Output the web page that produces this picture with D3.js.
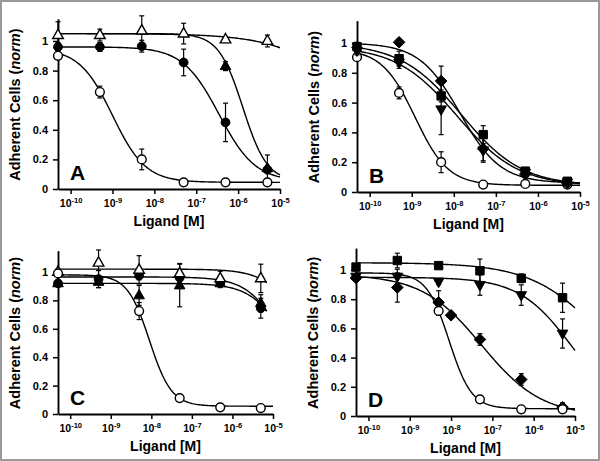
<!DOCTYPE html>
<html><head><meta charset="utf-8">
<script src="https://cdn.jsdelivr.net/npm/d3@7"></script>
<style>
body{margin:0;background:#fff}
svg{display:block}
text{font-family:"Liberation Sans",Arial,sans-serif;font-weight:bold;fill:#000}
</style>
</head><body>
<svg id="chart" width="600" height="461"></svg>
<script>
// ---------- data ----------
const concs  = [5e-11, 5e-10, 5e-9, 5e-8, 5e-7, 5e-6];
const concsD = [5e-11, 5e-10, 5e-9, 1e-8, 5e-8, 5e-7, 5e-6];
const xTickExps = [-10, -9, -8, -7, -6, -5];
const yTicks = [0, 0.2, 0.4, 0.6, 0.8, 1];
const panelLabels = ["A", "B", "C", "D"];
const xTitle = "Ligand [M]";

// fit params: [top, bottom, IC50, hill]
// Panel A
const A_openCircle = [0.90, 0.655, 0.20, 0.045, 0.045, 0.045];
const A_openCircleErr = [0, 0.04, 0.07, 0, 0, 0];
const A_openCircleFit = [0.95, 0.045, 1e-9, 1.1];
const A_filledCircle = [0.96, 0.96, 0.965, 0.855, 0.45, 0.13];
const A_filledCircleErr = [0.03, 0.03, 0.04, 0.09, 0.13, 0];
const A_filledCircleFit = [0.96, 0.05, 3.5e-7, 1.0];
const A_filledTri = [null, null, null, null, 0.83, 0.14];
const A_filledTriErr = [0, 0, 0, 0, 0.03, 0.09];
const A_filledTriFit = [1.05, 0.05, 1.3e-6, 1.5];
const A_openTri = [1.04, 1.04, 1.07, 1.05, 1.01, 1.0];
const A_openTriErr = [0.09, 0.04, 0.1, 0.07, 0.02, 0.04];
const A_openTriFit = [1.05, 0, 1e-3, 0.5];

// Panel B
const B_openCircle = [0.905, 0.665, 0.20, 0.05, 0.054, 0.05];
const B_openCircleErr = [0, 0.04, 0.07, 0, 0, 0];
const B_openCircleFit = [0.96, 0.045, 1.2e-9, 1.1];
const B_diamond = [null, 1.005, 0.745, 0.29, 0.12, 0.06];
const B_diamondErr = [0, 0.02, 0.1, 0.08, 0.02, 0.02];
const B_diamondFit = [1.0, 0.06, 1.4e-8, 0.9];
const B_triDown = [0.95, 0.87, 0.555, 0.28, 0.13, 0.065];
const B_triDownErr = [0.03, 0.04, 0.17, 0.08, 0.02, 0.02];
const B_triDownFit = [0.98, 0.04, 1.2e-8, 0.6];
const B_square = [0.975, 0.895, 0.645, 0.385, 0.14, 0.072];
const B_squareErr = [0.03, 0.05, 0.04, 0.06, 0.02, 0.02];
const B_squareFit = [1.0, 0.04, 1.5e-8, 0.6];

// Panel C
const C_filledCircle = [0.92, 0.95, 0.975, 0.96, 0.925, 0.745];
const C_filledCircleErr = [0.02, 0.06, 0.03, 0.03, 0.03, 0.07];
const C_filledCircleFit = [0.965, 0, 2.1e-5, 1];
const C_filledTri = [0.92, 0.93, 0.835, 0.905, 0.92, 0.78];
const C_filledTriErr = [0.02, 0.04, 0.07, 0.15, 0.03, 0.06];
const C_filledTriFit = [0.92, 0, 2.6e-5, 1];
const C_openTri = [1.0, 1.065, 1.015, 0.99, 0.955, 0.955];
const C_openTriErr = [0.02, 0.09, 0.1, 0.07, 0.05, 0.1];
const C_openTriFit = [1.02, 0, 6.8e-5, 1];
const C_openCircle = [0.99, null, 0.725, 0.112, 0.047, 0.042];
const C_openCircleErr = [0, 0, 0.06, 0, 0, 0];
const C_openCircleFit = [0.98, 0.055, 9e-9, 1.6];

// Panel D
const D_diamond = [0.945, 0.88, 0.778, 0.69, 0.524, 0.25, 0.06];
const D_diamondErr = [0.02, 0.1, 0.08, 0.02, 0.04, 0.04, 0.03];
const D_diamondFit = [0.97, 0, 5.5e-8, 0.6];
const D_triDown = [0.955, 0.955, 0.92, 0.897, 0.828, 0.565];
const D_triDownErr = [0.02, 0.05, 0.02, 0.07, 0.07, 0.1];
const D_triDownFit = [0.95, 0, 8.5e-6, 0.68];
const D_square = [1.02, 1.065, 1.03, 0.995, 0.943, 0.81];
const D_squareErr = [0.02, 0.05, 0.02, 0.08, 0.03, 0.1];
const D_squareFit = [1.05, 0, 5.7e-5, 0.5];
const D_openCircle = [null, null, 0.72, 0.114, 0.046, 0.046];
const D_openCircleErr = [0, 0, 0.03, 0, 0, 0];
const D_openCircleFit = [0.98, 0.05, 9e-9, 1.6];

// ---------- layout / options ----------
const panels = [
  {label: panelLabels[0], x0: 58, x1: 280, y0: 189, y1: 41, series: [
    {x: concs, y: A_filledCircle, e: A_filledCircleErr, fit: A_filledCircleFit, shape: "circle", open: false},
    {x: concs, y: A_filledTri, e: A_filledTriErr, fit: A_filledTriFit, shape: "triUp", open: false},
    {x: concs, y: A_openTri, e: A_openTriErr, fit: A_openTriFit, shape: "triUp", open: true},
    {x: concs, y: A_openCircle, e: A_openCircleErr, fit: A_openCircleFit, shape: "circle", open: true}
  ]},
  {label: panelLabels[1], x0: 357, x1: 580, y0: 192, y1: 43, series: [
    {x: concs, y: B_openCircle, e: B_openCircleErr, fit: B_openCircleFit, shape: "circle", open: true},
    {x: concs, y: B_diamond, e: B_diamondErr, fit: B_diamondFit, shape: "diamond", open: false},
    {x: concs, y: B_triDown, e: B_triDownErr, fit: B_triDownFit, shape: "triDown", open: false},
    {x: concs, y: B_square, e: B_squareErr, fit: B_squareFit, shape: "square", open: false}
  ]},
  {label: panelLabels[2], x0: 58, x1: 273, y0: 414, y1: 272, series: [
    {x: concs, y: C_filledCircle, e: C_filledCircleErr, fit: C_filledCircleFit, shape: "circle", open: false, end: 7e-6},
    {x: concs, y: C_filledTri, e: C_filledTriErr, fit: C_filledTriFit, shape: "triUp", open: false, end: 7e-6},
    {x: concs, y: C_openTri, e: C_openTriErr, fit: C_openTriFit, shape: "triUp", open: true, end: 7e-6},
    {x: concs, y: C_openCircle, e: C_openCircleErr, fit: C_openCircleFit, shape: "circle", open: true}
  ]},
  {label: panelLabels[3], x0: 356, x1: 575, y0: 416, y1: 270, series: [
    {x: concsD, y: D_diamond, e: D_diamondErr, fit: D_diamondFit, shape: "diamond", open: false},
    {x: concs, y: D_triDown, e: D_triDownErr, fit: D_triDownFit, shape: "triDown", open: false},
    {x: concs, y: D_square, e: D_squareErr, fit: D_squareFit, shape: "square", open: false},
    {x: concs, y: D_openCircle, e: D_openCircleErr, fit: D_openCircleFit, shape: "circle", open: true}
  ]}
];

const svg = d3.select("#chart");
svg.append("rect").attr("x", 1).attr("y", 1).attr("width", 598).attr("height", 459)
  .attr("fill", "none").attr("stroke", "#9a9a9a").attr("stroke-width", 2);

const shapePath = {
  circle: d3.symbol(d3.symbolCircle, Math.PI * 4.4 * 4.4)(),
  triUp: "M0,-6L5.3,3.4L-5.3,3.4Z",
  triDown: "M0,6L5.3,-3.4L-5.3,-3.4Z",
  square: "M-4.2,-4.2H4.2V4.2H-4.2Z",
  diamond: "M0,-5.8L5.8,0L0,5.8L-5.8,0Z"
};

function model(p, c) {
  return p[1] + (p[0] - p[1]) / (1 + Math.pow(c / p[2], p[3]));
}

panels.forEach(P => {
  const g = svg.append("g");
  const xMin = 5e-11, xMax = 1e-5;
  const x = d3.scaleLog().domain([xMin, xMax]).range([P.x0, P.x1]);
  const unit = P.y0 - P.y1;
  const y = d3.scaleLinear().domain([0, 1]).range([P.y0, P.y1]);
  const yAxisScale = d3.scaleLinear().domain([0, 1.15]).range([P.y0, P.y0 - 1.15 * unit]);

  // axes
  const xAxis = g.append("g").attr("transform", `translate(0,${P.y0})`)
    .call(d3.axisBottom(x).tickValues(xTickExps.map(e => Math.pow(10, e)))
      .tickSize(5).tickSizeOuter(0).tickPadding(4).tickFormat(""));
  xAxis.select(".domain").attr("stroke-width", 1.9);
  xAxis.selectAll(".tick line").attr("stroke-width", 1.5);
  xAxis.selectAll(".tick").each(function(d, i) {
    const t = d3.select(this).append("text").attr("y", 18).attr("text-anchor", "middle")
      .style("font-size", "10.5px");
    t.append("tspan").text("10");
    t.append("tspan").attr("dy", -4).style("font-size", "7.5px").text(String(xTickExps[i]));
  });

  const yAxis = g.append("g").attr("transform", `translate(${P.x0},0)`)
    .call(d3.axisLeft(yAxisScale).tickValues(yTicks).tickSize(5).tickSizeOuter(0).tickPadding(5)
      .tickFormat(d => d === 0 ? "0" : d === 1 ? "1" : d.toFixed(1)));
  yAxis.select(".domain").attr("stroke-width", 1.9);
  yAxis.selectAll(".tick line").attr("stroke-width", 1.5);
  yAxis.selectAll(".tick text").style("font-size", "11px").style("font-family", '"Liberation Sans",Arial,sans-serif').style("font-weight", "bold");
  g.selectAll(".domain, .tick line").attr("stroke", "#000");

  // titles
  g.append("text").attr("x", (P.x0 + P.x1) / 2).attr("y", P.y0 + 37)
    .attr("text-anchor", "middle").style("font-size", "14px").text(xTitle);
  const yt = g.append("text")
    .attr("transform", `translate(${P.x0 - 38},${P.y0 - 0.57 * unit}) rotate(-90)`)
    .attr("text-anchor", "middle").style("font-size", "14.5px");
  yt.append("tspan").text("Adherent Cells (");
  yt.append("tspan").style("font-style", "italic").text("norm");
  yt.append("tspan").text(")");

  g.append("text").attr("x", P.x0 + 12).attr("y", P.y0 - 9)
    .style("font-size", "21px").text(P.label);

  // curves
  const line = d3.line().x(d => x(d[0])).y(d => y(d[1]));
  P.series.forEach(s => {
    const end = s.end || xMax;
    const n = 160, pts = [];
    const l0 = Math.log10(xMin), l1 = Math.log10(end);
    for (let i = 0; i <= n; i++) {
      const c = Math.pow(10, l0 + (l1 - l0) * i / n);
      pts.push([c, model(s.fit, c)]);
    }
    g.append("path").attr("d", line(pts)).attr("fill", "none")
      .attr("stroke", "#000").attr("stroke-width", 1.4);
  });

  // error bars + markers
  P.series.forEach(s => {
    const data = s.x.map((c, i) => ({c, v: s.y[i], e: s.e[i]})).filter(d => d.v != null);
    const eb = g.append("g").attr("stroke", "#000").attr("stroke-width", 1.2);
    data.filter(d => d.e > 0).forEach(d => {
      const cx = x(d.c);
      eb.append("line").attr("x1", cx).attr("x2", cx).attr("y1", y(d.v - d.e)).attr("y2", y(d.v + d.e));
      eb.append("line").attr("x1", cx - 2.5).attr("x2", cx + 2.5).attr("y1", y(d.v + d.e)).attr("y2", y(d.v + d.e));
      eb.append("line").attr("x1", cx - 2.5).attr("x2", cx + 2.5).attr("y1", y(d.v - d.e)).attr("y2", y(d.v - d.e));
    });
    g.append("g").selectAll("path").data(data).join("path")
      .attr("d", shapePath[s.shape])
      .attr("transform", d => `translate(${x(d.c)},${y(d.v)})`)
      .attr("fill", s.open ? "#fff" : "#000")
      .attr("stroke", "#000").attr("stroke-width", s.open ? 1.4 : 1);
  });
});
</script>
</body></html>
